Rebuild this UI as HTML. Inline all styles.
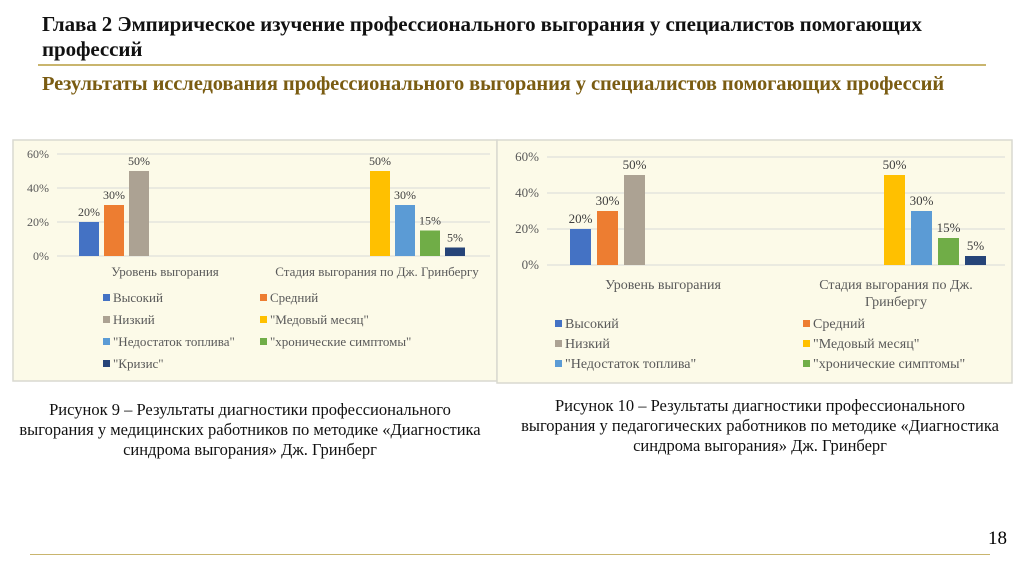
<!DOCTYPE html>
<html><head><meta charset="utf-8">
<style>
body{margin:0;width:1024px;height:574px;background:#fff;position:relative;overflow:hidden;font-family:"Liberation Serif",serif;}
.abs{position:absolute;}
.title{left:42px;top:12px;font-weight:bold;font-size:21px;line-height:25px;color:#111;width:925px;letter-spacing:-0.1px;}
.sub{left:42px;top:73px;font-weight:bold;font-size:20.5px;color:#7a5c12;letter-spacing:-0.1px;white-space:nowrap;}
.rule{height:2px;background:#c9b56e;}
.cap{font-size:16.5px;line-height:20px;text-align:center;color:#111;}
svg text{font-family:"Liberation Serif",serif;}
</style></head><body>
<div class="abs title">Глава 2 Эмпирическое изучение профессионального выгорания у специалистов помогающих профессий</div>
<div class="abs rule" style="left:38px;top:64px;width:948px"></div>
<div class="abs sub">Результаты исследования профессионального выгорания у специалистов помогающих профессий</div>

<svg class="abs" style="left:0;top:0" width="1024" height="574" id="charts"></svg>

<div class="abs cap" style="left:0px;top:400px;width:500px">Рисунок 9 – Результаты диагностики профессионального<br>выгорания у медицинских работников по методике «Диагностика<br>синдрома выгорания» Дж. Гринберг</div>
<div class="abs cap" style="left:505px;top:396px;width:510px">Рисунок 10 – Результаты диагностики профессионального<br>выгорания у педагогических работников по методике «Диагностика<br>синдрома выгорания» Дж. Гринберг</div>
<div class="abs rule" style="left:30px;top:554px;width:960px;height:1px"></div>
<div class="abs" style="left:988px;top:528px;font-size:19px">18</div>

<script>
const seriesNames=["Высокий","Средний","Низкий","\"Медовый месяц\"","\"Недостаток топлива\"","\"хронические симптомы\"","\"Кризис\""];
const seriesColors=["#4472c4","#ed7d31","#aca293","#ffc000","#5b9bd5","#70ad47","#264478"];
const group1Values=[20,30,50];
const group2Values=[50,30,15,5];
const group1Labels=["20%","30%","50%"];
const group2Labels=["50%","30%","15%","5%"];
const yTicks=[0,20,40,60];
const yTickLabels=["0%","20%","40%","60%"];
const chart1Categories=["Уровень выгорания","Стадия выгорания по Дж. Гринбергу"];
const chart2Categories=["Уровень выгорания","Стадия выгорания по Дж.|Гринбергу"];

const NS="http://www.w3.org/2000/svg";
const svg=document.getElementById('charts');
function mk(tag,at,parent){const e=document.createElementNS(NS,tag);for(const k in at)e.setAttribute(k,at[k]);(parent||svg).appendChild(e);return e;}

function drawChart(cfg){
  const g=mk('g',{});
  
  
  const bg=mk('rect',{x:cfg.px,y:cfg.py,width:cfg.pw,height:cfg.ph,fill:'#fcfae8',stroke:'#d9d9d0','stroke-width':1.5},g);
  
  
  const y=v=>cfg.y0-(v/60)*(cfg.y0-cfg.y60);
  yTicks.forEach((t,i)=>{
    const l=mk('line',{x1:cfg.gx0,x2:cfg.gx1,y1:y(t),y2:y(t),stroke:'#d9d9d9','stroke-width':1},g);
    
    
    const tx=mk('text',{x:cfg.gx0-8,y:y(t)+4,'font-size':cfg.fs,'text-anchor':'end',fill:'#595959'},g);
    tx.textContent=yTickLabels[i];
    
    
  });
  const groups=[{vals:group1Values,labs:group1Labels,start:cfg.g1x,off:0},{vals:group2Values,labs:group2Labels,start:cfg.g2x,off:3}];
  groups.forEach(gr=>{
    gr.vals.forEach((v,i)=>{
      const x=gr.start+i*cfg.step;
      const r=mk('rect',{x:x,y:y(v),width:cfg.bw,height:y(0)-y(v),fill:seriesColors[gr.off+i]},g);
      
      
      const t=mk('text',{x:x+cfg.bw/2,y:y(v)-6,'font-size':cfg.fs,'text-anchor':'middle',fill:'#404040'},g);
      t.textContent=gr.labs[i];
      
      
    });
  });
  cfg.cats.forEach((c,i)=>{
    c.split('|').forEach((line,j)=>{
      const t=mk('text',{x:cfg.catx[i],y:cfg.caty+j*17,'font-size':cfg.fs+1,'text-anchor':'middle',fill:'#595959'},g);
      t.textContent=line;
      
      
    });
  });
  for(let i=0;i<cfg.nLegend;i++){
    const col=i%2,row=Math.floor(i/2);
    const lx=cfg.lx[col],ly=cfg.ly+row*cfg.lrow;
    const s=mk('rect',{x:lx,y:ly-8,width:7,height:7,fill:seriesColors[i]},g);
    
    
    const t=mk('text',{x:lx+10,y:ly,'font-size':cfg.fs+1,fill:'#595959'},g);
    t.textContent=seriesNames[i];
    
    
  }
}
drawChart({name:'chart-figure-9',px:13,py:140,pw:484,ph:241,y0:256,y60:154,gx0:57,gx1:490,g1x:79,g2x:370,step:25,bw:20,fs:12,
  cats:chart1Categories,catx:[165,377],caty:276,lx:[103,260],ly:302,lrow:22,nLegend:7});
drawChart({name:'chart-figure-10',px:497,py:140,pw:515,ph:243,y0:265,y60:157,gx0:547,gx1:1005,g1x:570,g2x:884,step:27,bw:21,fs:13,
  cats:chart2Categories,catx:[663,896],caty:289,lx:[555,803],ly:328,lrow:20,nLegend:6});
</script>
</body></html>
